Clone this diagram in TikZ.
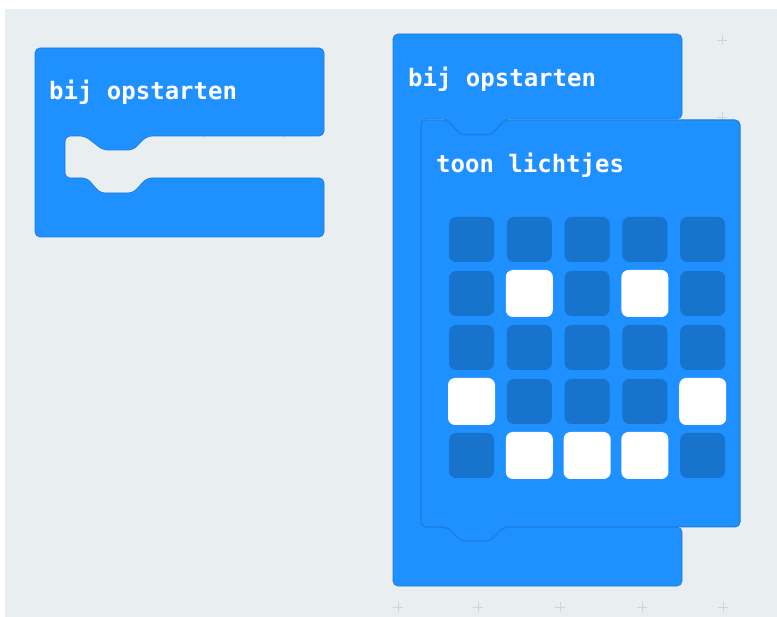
\documentclass[tikz,border=0pt]{standalone}
\usepackage{fontspec}
\newfontfamily\blockfont{DejaVu Sans Mono}
\definecolor{blockblue}{HTML}{1E90FF}
\definecolor{blockedge}{HTML}{1A7CDC}
\definecolor{leddark}{HTML}{1873CC}
\definecolor{canvas}{HTML}{E9EEF0}
\definecolor{plusgray}{HTML}{CDD4D8}

\begin{document}
\begin{tikzpicture}[x=1pt,y=-1pt,
  block/.style={fill=blockblue,draw=blockedge,line width=0.7pt,rounded corners=5pt},
  blocktext/.style={anchor=base west,inner sep=0pt,text=white,font=\blockfont\bfseries\fontsize{24}{28}\selectfont},
  ledoff/.style={fill=leddark,rounded corners=7pt,minimum size=45pt,inner sep=0pt},
  ledon/.style={ledoff,fill=white,minimum size=47pt},
  plus/.style={draw=plusgray,line width=0.8pt}]
  \useasboundingbox (0,0) rectangle (777,617);
  \fill[white] (0,0) rectangle (777,617);
  \fill[canvas] (5,9) rectangle (777,617);
  \foreach \x/\y in {722/40,722/117,398/607,478/607,560/607,642/607,723/607,203/133,283/133}
    \draw[plus] (\x-5,\y) -- (\x+5,\y) (\x,\y-5) -- (\x,\y+5);

  \draw[block] (35,48) -- (324,48) -- (324,136) -- (147,136) -- (133,150) -- (103,150) -- (85,136)
    -- (65,136) -- (65,178) -- (87,178) -- (100,193) -- (133,193) -- (147,178) -- (324,178)
    -- (324,237) -- (35,237) -- cycle;
  \node[blocktext] (start1) at (49,100) {bij opstarten};

  \draw[block] (393,34) -- (682,34) -- (682,119) -- (505,119) -- (491,135) -- (461,135) -- (447,119)
    -- (421,119) -- (421,527) -- (447,527) -- (461,541) -- (490,541) -- (504,527) -- (682,527)
    -- (682,586) -- (393,586) -- cycle;
  \node[blocktext] (start2) at (408,87) {bij opstarten};

  \draw[block,line width=1pt] (421,120) -- (447,120) -- (461,135) -- (491,135) -- (505,120) -- (740,120)
    -- (740,527) -- (504,527) -- (490,541) -- (461,541) -- (447,527) -- (421,527) -- cycle;
  \node[blocktext] (show) at (436,173) {toon lichtjes};

  \foreach \row [count=\r from 0] in {{0,0,0,0,0},{0,1,0,1,0},{0,0,0,0,0},{1,0,0,0,1},{0,1,1,1,0}}
    \foreach \v [count=\c from 0] in \row {
      \ifnum\v=1 \def\ledstyle{ledon}\else\def\ledstyle{ledoff}\fi
      \node[\ledstyle] (led\r\c) at (471.5+57.8*\c,239.5+54*\r) {};
    }
\end{tikzpicture}
\end{document}
